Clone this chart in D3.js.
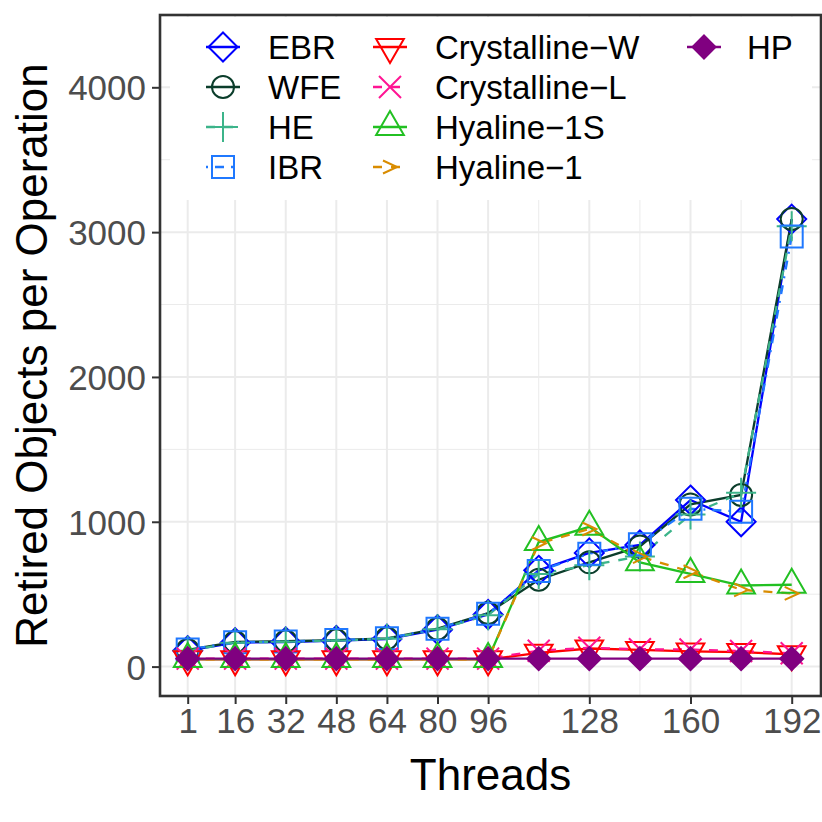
<!DOCTYPE html>
<html>
<head>
<meta charset="utf-8">
<script src="https://cdn.jsdelivr.net/npm/d3@7"></script>
<style>
  html, body { margin: 0; padding: 0; background: #ffffff; }
  svg { display: block; }
  text { font-family: "Liberation Sans", Arial, Helvetica, sans-serif; }
</style>
</head>
<body>
<svg id="chart" width="822" height="822"></svg>
<script>
// ---------------- data ----------------
const threads = [1, 16, 32, 48, 64, 80, 96, 112, 128, 144, 160, 176, 192];
const ebr        = [110, 165, 170, 180, 190, 255, 360, 665, 785, 840, 1150, 1000, 3090];
const wfe        = [115, 170, 175, 182, 195, 262, 370, 600, 720, 830, 1120, 1185, 3090];
const he         = [110, 165, 172, 180, 192, 258, 355, 640, 700, 760, 1050, 1200, 3040];
const ibr        = [118, 168, 174, 183, 196, 262, 365, 660, 780, 845, 1090, 1070, 2970];
const crystW     = [50, 50, 50, 50, 50, 50, 50, 95, 125, 115, 105, 100, 85];
const crystL     = [55, 55, 55, 55, 55, 55, 55, 110, 130, 120, 118, 108, 92];
const hyaline1S  = [52, 52, 52, 52, 52, 52, 52, 860, 965, 720, 640, 560, 565];
const hyaline1   = [50, 50, 50, 50, 50, 50, 50, 850, 950, 760, 655, 530, 505];
const hp         = [55, 55, 55, 55, 55, 55, 55, 55, 55, 55, 55, 55, 55];

const seriesNames = ["EBR", "WFE", "HE", "IBR", "Crystalline\u2212W", "Crystalline\u2212L", "Hyaline\u22121S", "Hyaline\u22121", "HP"];
const seriesValues = [ebr, wfe, he, ibr, crystW, crystL, hyaline1S, hyaline1, hp];
const seriesColors = ["#0000ff", "#0b3d2b", "#3cb48a", "#1f78ff", "#ff0000", "#ff1493", "#22c022", "#d98c00", "#800080"];
const seriesShapes = ["diamond", "circle", "plus", "square", "triDown", "cross", "triUp", "chevron", "diamondFill"];
const seriesDash   = ["", "", "9,9", "2,7,9,7", "", "9,9", "", "9,9", ""];

const xTickValues = [1, 16, 32, 48, 64, 80, 96, 128, 160, 192];
const xMinorValues = [112, 144, 176];
const yTickValues = [0, 1000, 2000, 3000, 4000];
const yMinorValues = [500, 1500, 2500, 3500];

// ---------------- layout ----------------
const panel = { left: 160, right: 821, top: 15, bottom: 696 };
const svg = d3.select("#chart");

const x = d3.scaleLinear().domain([1, 192]).range([187.7, 791.7]);
const y = d3.scaleLinear().domain([0, 4000]).range([666.6, 87.3]);

svg.append("rect").attr("width", 822).attr("height", 822).attr("fill", "#ffffff");

svg.append("defs").append("clipPath").attr("id", "clip")
  .append("rect")
  .attr("x", panel.left).attr("y", panel.top)
  .attr("width", panel.right - panel.left).attr("height", panel.bottom - panel.top);

// grid
const grid = svg.append("g");
grid.selectAll("line.ymin").data(yMinorValues).join("line")
  .attr("x1", panel.left).attr("x2", panel.right)
  .attr("y1", d => y(d)).attr("y2", d => y(d))
  .attr("stroke", "#ebebeb").attr("stroke-width", 1);
grid.selectAll("line.xmin").data(xMinorValues).join("line")
  .attr("y1", panel.top).attr("y2", panel.bottom)
  .attr("x1", d => x(d)).attr("x2", d => x(d))
  .attr("stroke", "#ebebeb").attr("stroke-width", 1);
grid.selectAll("line.ymaj").data(yTickValues).join("line")
  .attr("x1", panel.left).attr("x2", panel.right)
  .attr("y1", d => y(d)).attr("y2", d => y(d))
  .attr("stroke", "#ebebeb").attr("stroke-width", 2);
grid.selectAll("line.xmaj").data(xTickValues).join("line")
  .attr("y1", panel.top).attr("y2", panel.bottom)
  .attr("x1", d => x(d)).attr("x2", d => x(d))
  .attr("stroke", "#ebebeb").attr("stroke-width", 2);

// shapes
function shapePath(shape) {
  switch (shape) {
    case "diamond": { const r = 14.5; return `M0,${-r}L${r},0L0,${r}L${-r},0Z`; }
    case "diamondFill": { const r = 11.5; return `M0,${-r}L${r},0L0,${r}L${-r},0Z`; }
    case "plus": { const r = 15; return `M${-r},0H${r}M0,${-r}V${r}`; }
    case "square": { const h = 11; return `M${-h},${-h}H${h}V${h}H${-h}Z`; }
    case "triUp": { const r = 16, w = r * 0.866; return `M0,${-r}L${w},${r / 2}L${-w},${r / 2}Z`; }
    case "triDown": { const r = 16, w = r * 0.866; return `M0,${r}L${w},${-r / 2}L${-w},${-r / 2}Z`; }
    case "cross": { const r = 11; return `M${-r},${-r}L${r},${r}M${-r},${r}L${r},${-r}`; }
    case "chevron": { const w = 7, h = 6.5; return `M${-w},${-h}L${w},0L${-w},${h}`; }
    default: return "";
  }
}
function drawMarker(g, shape, color) {
  if (shape === "circle") {
    g.append("circle").attr("r", 11).attr("fill", "none").attr("stroke", color).attr("stroke-width", 2);
  } else {
    g.append("path").attr("d", shapePath(shape))
      .attr("fill", shape === "diamondFill" ? color : "none")
      .attr("stroke", color).attr("stroke-width", 2)
      .attr("stroke-linejoin", "miter");
  }
}

const plotG = svg.append("g").attr("clip-path", "url(#clip)");
const line = d3.line().x(d => x(d[0])).y(d => y(d[1]));

seriesNames.forEach((name, i) => {
  const pts = threads.map((t, j) => [t, seriesValues[i][j]]);
  plotG.append("path").datum(pts)
    .attr("d", line)
    .attr("fill", "none")
    .attr("stroke", seriesColors[i])
    .attr("stroke-width", 2.3)
    .attr("stroke-dasharray", seriesDash[i] || null);
});
seriesNames.forEach((name, i) => {
  threads.forEach((t, j) => {
    const g = plotG.append("g").attr("transform", `translate(${x(t)},${y(seriesValues[i][j])})`);
    drawMarker(g, seriesShapes[i], seriesColors[i]);
  });
});

// legend
const legend = svg.append("g");
legend.append("rect").attr("x", 170).attr("y", 17).attr("width", 642).attr("height", 183).attr("fill", "#ffffff");
const colKeyX = [223, 390, 704];
const colTextX = [268, 435, 747];
const rowY = [47, 87, 127, 167];
const legendLayout = [[0,0],[0,1],[0,2],[0,3],[1,0],[1,1],[1,2],[1,3],[2,0]];
seriesNames.forEach((name, i) => {
  const [c, r] = legendLayout[i];
  const g = legend.append("g").attr("transform", `translate(${colKeyX[c]},${rowY[r]})`);
  g.append("line").attr("x1", -17).attr("x2", 17).attr("y1", 0).attr("y2", 0)
    .attr("stroke", seriesColors[i]).attr("stroke-width", 2.3)
    .attr("stroke-dasharray", seriesDash[i] || null);
  drawMarker(g, seriesShapes[i], seriesColors[i]);
  legend.append("text").attr("x", colTextX[c]).attr("y", rowY[r]).attr("dy", "0.36em")
    .attr("font-size", 33).attr("fill", "#000").text(name);
});

// panel border
svg.append("rect")
  .attr("x", panel.left).attr("y", panel.top)
  .attr("width", panel.right - panel.left).attr("height", panel.bottom - panel.top)
  .attr("fill", "none").attr("stroke", "#333333").attr("stroke-width", 2.6);

// axes
const yAxis = d3.axisLeft(y).tickValues(yTickValues).tickSize(8).tickPadding(6).tickFormat(d3.format("d"));
const yG = svg.append("g").attr("transform", `translate(${panel.left},0)`).call(yAxis);
yG.select(".domain").remove();
yG.selectAll(".tick line").attr("stroke", "#333333").attr("stroke-width", 2);
yG.selectAll(".tick text").attr("font-size", 35).attr("fill", "#4d4d4d")
  .attr("font-family", "Liberation Sans, Arial, sans-serif").attr("dy", "0.36em");

const xAxis = d3.axisBottom(x).tickValues(xTickValues).tickSize(8).tickPadding(4).tickFormat(d3.format("d"));
const xG = svg.append("g").attr("transform", `translate(0,${panel.bottom})`).call(xAxis);
xG.select(".domain").remove();
xG.selectAll(".tick line").attr("stroke", "#333333").attr("stroke-width", 2);
xG.selectAll(".tick text").attr("font-size", 35).attr("fill", "#4d4d4d")
  .attr("font-family", "Liberation Sans, Arial, sans-serif");

// titles
svg.append("text").attr("x", (panel.left + panel.right) / 2).attr("y", 790)
  .attr("text-anchor", "middle").attr("font-size", 44).attr("fill", "#000").text("Threads");
svg.append("text").attr("transform", `translate(47,${(panel.top + panel.bottom) / 2}) rotate(-90)`)
  .attr("text-anchor", "middle").attr("font-size", 44).attr("fill", "#000").text("Retired Objects per Operation");
</script>
</body>
</html>
